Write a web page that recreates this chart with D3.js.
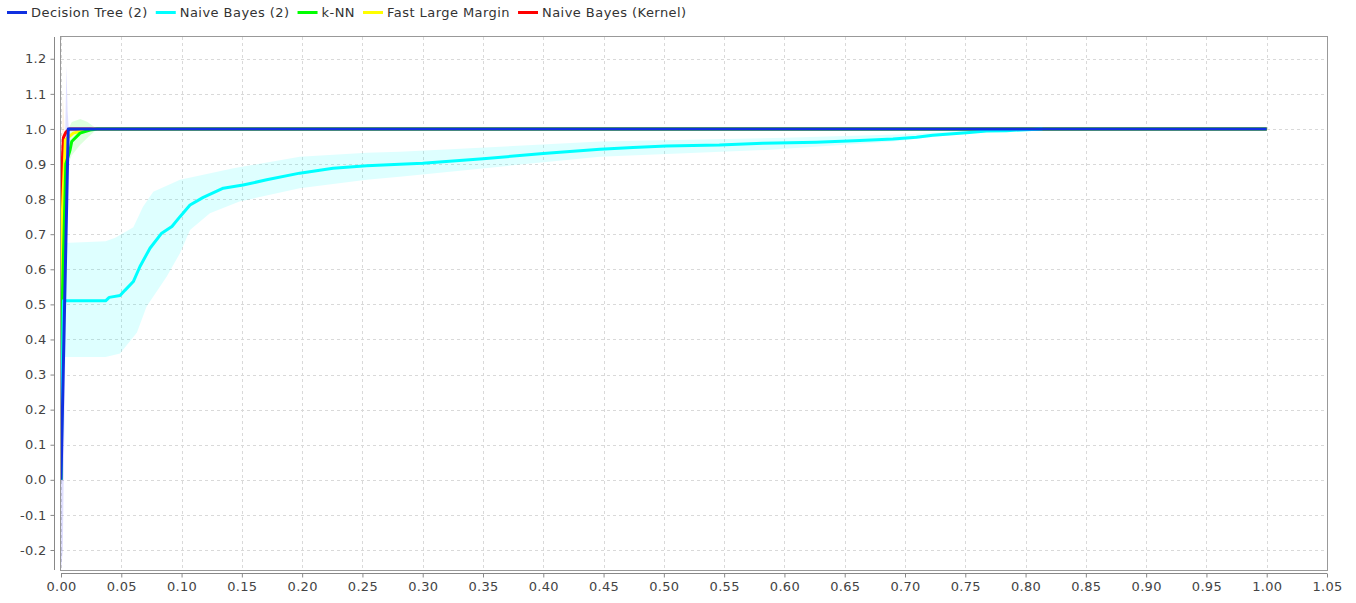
<!DOCTYPE html>
<html lang="en">
<head>
    <meta charset="UTF-8">
    <title>ROC comparison</title>
    <script src="https://d3js.org/d3.v7.min.js"></script>
    <style>
        body{ margin:0; background:#fff; font-family: "DejaVu Sans", sans-serif; }
        svg text{ font-family: "DejaVu Sans", sans-serif; font-size:13px; }
    </style>
</head>
<body>
<svg width="1356" height="603"></svg>
<script>
    // ---- data ----
    const seriesNames = ["Decision Tree (2)", "Naive Bayes (2)", "k-NN", "Fast Large Margin", "Naive Bayes (Kernel)"];
    const seriesColors = ["#1030e0", "#00ffff", "#00ff00", "#ffff00", "#ff0000"];

    const xTicks = d3.range(0, 21.5).map(i => i * 0.05);
    const yTicks = d3.range(-2, 12.5).map(i => i / 10);

    // Decision Tree (2)
    const dtX = [0, 0.006, 1.0];
    const dtY = [0, 1.0, 1.0];
    const dtBandX  = [0, 0.0015, 0.003, 0.0045, 0.0055, 0.0065];
    const dtBandUp = [0.0, 0.45, 0.9, 1.18, 1.05, 1.0];
    const dtBandLo = [-0.26, -0.2, 0.2, 0.6, 0.9, 1.0];

    // Naive Bayes (2)
    const nbX = [0, 0.002, 0.032, 0.037, 0.04, 0.049, 0.053, 0.060, 0.0655, 0.0738, 0.0835, 0.092, 0.0987, 0.107, 0.118,
                 0.1346, 0.151, 0.1706, 0.198, 0.2257, 0.2535, 0.281, 0.30, 0.35, 0.40, 0.447, 0.4745, 0.502, 0.546,
                 0.582, 0.6265, 0.6625, 0.69, 0.7095, 0.723, 0.751, 0.7675, 0.784, 0.814];
    const nbY = [0, 0.51, 0.51, 0.51, 0.52, 0.525, 0.54, 0.565, 0.608, 0.66, 0.703, 0.722, 0.75, 0.783, 0.805,
                 0.831, 0.84, 0.855, 0.874, 0.888, 0.895, 0.899, 0.902, 0.915, 0.93, 0.942, 0.947, 0.9515, 0.954,
                 0.959, 0.962, 0.967, 0.971, 0.976, 0.982, 0.989, 0.994, 0.995, 1.0];
    const nbUpX = [0.002, 0.037, 0.045, 0.060, 0.068, 0.0765, 0.0987, 0.143, 0.198, 0.2535, 0.281, 0.447, 0.60, 0.70, 0.75, 0.78, 0.814];
    const nbUp  = [0.675, 0.68, 0.69, 0.72, 0.778, 0.821, 0.855, 0.888, 0.921, 0.932, 0.935, 0.964, 0.975, 0.985, 0.995, 1.0, 1.0];
    const nbLoX = [0.002, 0.037, 0.049, 0.063, 0.071, 0.0876, 0.0987, 0.107, 0.1235, 0.148, 0.198, 0.2535, 0.281, 0.447, 0.585, 0.69, 0.751, 0.814];
    const nbLo  = [0.35, 0.35, 0.36, 0.42, 0.494, 0.579, 0.646, 0.712, 0.76, 0.793, 0.831, 0.855, 0.864, 0.921, 0.94, 0.964, 0.988, 1.0];

    // k-NN
    const knnX = [0, 0.001, 0.004, 0.0075, 0.0089, 0.0158, 0.024, 0.03, 1.0];
    const knnY = [0, 0.5, 0.9, 0.94, 0.964, 0.988, 0.997, 1.0, 1.0];
    const knnBandX  = [0.003, 0.006, 0.009, 0.016, 0.022, 0.03];
    const knnBandUp = [0.95, 1.0, 1.02, 1.028, 1.02, 1.0];
    const knnBandLo = [0.82, 0.9, 0.925, 0.955, 0.975, 1.0];

    // Fast Large Margin
    const flmX = [0, 0.001, 0.0036, 0.0102, 0.021, 0.028, 1.0];
    const flmY = [0, 0.75, 0.969, 0.988, 0.997, 1.0, 1.0];

    // Naive Bayes (Kernel)
    const nbkX = [0, 0.001, 0.002, 0.004, 0.007, 1.0];
    const nbkY = [0, 0.9, 0.975, 0.99, 1.0, 1.0];
    const nbkBandX  = [0.0003, 0.0015, 0.003];
    const nbkBandUp = [0.8, 1.1, 1.0];
    const nbkBandLo = [0.6, 0.85, 1.0];

    // ---- layout ----
    const svg = d3.select("svg");
    const pLeft = 61, pRight = 1327, pTop = 37, pBottom = 570;

    const x = d3.scaleLinear().domain([0, 1.05]).range([pLeft, pRight]);
    const y = d3.scaleLinear().domain([-0.257, 1.262]).range([pBottom, pTop]);

    const zip = (xs, ys) => xs.map((v, i) => [v, ys[i]]);
    const line = d3.line().x(d => x(d[0])).y(d => y(d[1]));
    const bandPath = (bx, up, lo, bxLo) => {
        const pts = zip(bx, up).concat(zip(bxLo || bx, lo).reverse());
        return line(pts) + "Z";
    };

    svg.append("defs").append("clipPath").attr("id", "plot")
        .append("rect").attr("x", pLeft).attr("y", pTop).attr("width", pRight - pLeft).attr("height", pBottom - pTop);

    // grid
    const grid = svg.append("g").attr("stroke", "#d9d9d9").attr("stroke-dasharray", "3,3").attr("stroke-width", 1);
    grid.selectAll(".gx").data(xTicks).enter().append("line")
        .attr("x1", d => Math.round(x(d)) + 0.5).attr("x2", d => Math.round(x(d)) + 0.5)
        .attr("y1", pTop).attr("y2", pBottom);
    grid.selectAll(".gy").data(yTicks).enter().append("line")
        .attr("y1", d => Math.round(y(d)) + 0.5).attr("y2", d => Math.round(y(d)) + 0.5)
        .attr("x1", pLeft).attr("x2", pRight);

    const plot = svg.append("g").attr("clip-path", "url(#plot)");

    // bands
    plot.append("path").attr("d", bandPath(nbUpX, nbUp, nbLo, nbLoX))
        .attr("fill", "#00ffff").attr("fill-opacity", 0.13);
    plot.append("path").attr("d", bandPath(knnBandX, knnBandUp, knnBandLo))
        .attr("fill", "#00ff00").attr("fill-opacity", 0.13);
    plot.append("path").attr("d", bandPath(nbkBandX, nbkBandUp, nbkBandLo))
        .attr("fill", "#ff9900").attr("fill-opacity", 0.12);
    plot.append("path").attr("d", bandPath(dtBandX, dtBandUp, dtBandLo))
        .attr("fill", "#0000ff").attr("fill-opacity", 0.12);

    // curves, drawn so that Decision Tree ends on top
    const curves = [
        [nbkX, nbkY, 4], [flmX, flmY, 3], [knnX, knnY, 2], [nbX, nbY, 1], [dtX, dtY, 0]
    ];
    curves.forEach(([cx, cy, k]) => {
        plot.append("path").attr("d", line(zip(cx, cy)))
            .attr("fill", "none").attr("stroke", seriesColors[k])
            .attr("stroke-width", 3).attr("stroke-linejoin", "round");
    });

    // plot frame
    svg.append("rect").attr("x", pLeft - 0.5).attr("y", pTop - 0.5)
        .attr("width", pRight - pLeft + 1).attr("height", pBottom - pTop + 1)
        .attr("fill", "none").attr("stroke", "#999");

    // axes
    const yAxis = d3.axisLeft(y).tickValues(yTicks).tickFormat(d3.format(".1f")).tickSize(4).tickPadding(4);
    const xAxis = d3.axisBottom(x).tickValues(xTicks).tickFormat(d3.format(".2f")).tickSize(4).tickPadding(4);

    const ya = svg.append("g").attr("transform", "translate(54.5,0)").call(yAxis);
    const xa = svg.append("g").attr("transform", "translate(0,573.5)").call(xAxis);
    [ya, xa].forEach(g => {
        g.select(".domain").attr("stroke", "#888");
        g.selectAll(".tick line").attr("stroke", "#888");
        g.selectAll(".tick text").attr("fill", "#444")
            .style("font-size", "13px").style("letter-spacing", "0.3px")
            .style("font-family", "DejaVu Sans, sans-serif");
    });
    ya.select(".domain").attr("d", `M0,${pTop}V${pBottom}`);
    xa.select(".domain").attr("d", `M${pLeft},0H${pRight}`);
    ya.selectAll(".tick text").text(d => d3.format(".1f")(d).replace("−", "-"));

    // legend
    const legend = svg.append("g");
    let lx = 7;
    seriesNames.forEach((name, i) => {
        legend.append("line").attr("x1", lx).attr("x2", lx + 20).attr("y1", 12.5).attr("y2", 12.5)
            .attr("stroke", seriesColors[i]).attr("stroke-width", 3);
        const t = legend.append("text").attr("x", lx + 24).attr("y", 17).attr("fill", "#333")
            .style("letter-spacing", "0.45px").text(name);
        lx += 24 + t.node().getComputedTextLength() + 8;
    });
</script>
</body>
</html>
